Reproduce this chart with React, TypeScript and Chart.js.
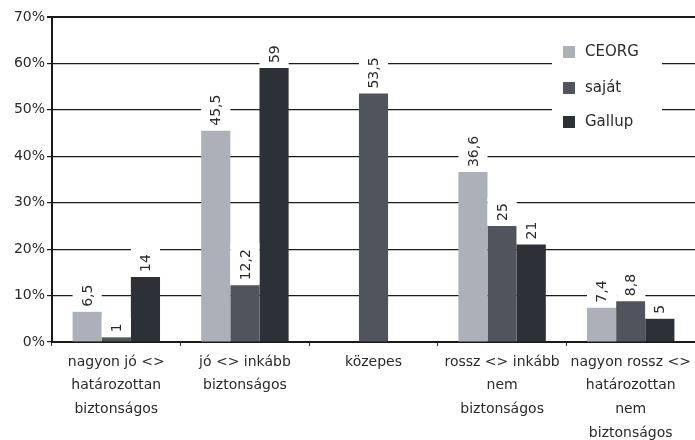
import React, { useEffect, useRef } from "react";
import { Chart, registerables } from "chart.js";

Chart.register(...registerables);

const categories: string[][] = [
  ["nagyon jó <>", "határozottan", "biztonságos"],
  ["jó <> inkább", "biztonságos"],
  ["közepes"],
  ["rossz <> inkább", "nem", "biztonságos"],
  ["nagyon rossz <>", "határozottan", "nem", "biztonságos"],
];

const seriesNames = ["CEORG", "saját", "Gallup"];
const ceorgValues: (number | null)[] = [6.5, 45.5, null, 36.6, 7.4];
const sajatValues: (number | null)[] = [1, 12.2, 53.5, 25, 8.8];
const gallupValues: (number | null)[] = [14, 59, null, 21, 5];
const seriesColors = ["#acb0b8", "#50555d", "#2c3037"];

const yTicks = [0, 10, 20, 30, 40, 50, 60, 70];

const FONT = "DejaVu Sans";
const TEXT = "#2a2a2a";

const fmt = (v: number) => String(v).replace(".", ",");

const valueLabelPlugin = {
  id: "valueLabels",
  afterDatasetsDraw(chart: any) {
    const ctx = chart.ctx;
    ctx.save();
    ctx.font = `14px "${FONT}"`;
    chart.data.datasets.forEach((ds: any, di: number) => {
      const meta = chart.getDatasetMeta(di);
      meta.data.forEach((el: any, i: number) => {
        const v = ds.data[i];
        if (v === null || v === undefined) return;
        const txt = fmt(v);
        const w = ctx.measureText(txt).width;
        const half = el.width / 2;
        ctx.save();
        ctx.translate(el.x, el.y - 5);
        ctx.rotate(-Math.PI / 2);
        ctx.fillStyle = "#ffffff";
        ctx.fillRect(-4, -half, w + 10, half * 2);
        ctx.fillStyle = TEXT;
        ctx.textAlign = "left";
        ctx.textBaseline = "middle";
        ctx.fillText(txt, 0, 1);
        ctx.restore();
      });
    });
    ctx.restore();
  },
};

const legendPlugin = {
  id: "boxLegend",
  afterDraw(chart: any) {
    const ctx = chart.ctx;
    ctx.save();
    ctx.fillStyle = "#ffffff";
    ctx.fillRect(552, 26, 110, 114);
    ctx.font = `15px "${FONT}"`;
    ctx.textBaseline = "middle";
    ctx.textAlign = "left";
    const ys = [52, 88, 122];
    chart.data.datasets.forEach((ds: any, i: number) => {
      const y = ys[i];
      ctx.fillStyle = ds.backgroundColor;
      ctx.fillRect(563, y - 6, 12, 12);
      ctx.fillStyle = TEXT;
      ctx.fillText(ds.label, 585, y);
    });
    ctx.restore();
  },
};

export default function App() {
  const ref = useRef<HTMLCanvasElement | null>(null);
  useEffect(() => {
    if (!ref.current) return;
    const chart = new Chart(ref.current, {
      type: "bar",
      data: {
        labels: categories,
        datasets: [ceorgValues, sajatValues, gallupValues].map((d, i) => ({
          label: seriesNames[i],
          data: d,
          backgroundColor: seriesColors[i],
          borderWidth: 0,
          categoryPercentage: 0.68,
          barPercentage: 1,
          skipNull: false,
        })) as any,
      },
      options: {
        animation: false,
        responsive: false,
        layout: { padding: { top: 17, right: 0, left: 0, bottom: 0 } },
        plugins: {
          legend: { display: false },
          tooltip: { enabled: false },
        },
        scales: {
          x: {
            grid: {
              drawOnChartArea: false,
              drawTicks: true,
              tickLength: 4,
              color: "#333",
              lineWidth: 1,
            },
            border: { color: "#1a1a1a", width: 2 },
            ticks: {
              color: TEXT,
              padding: 4,
              maxRotation: 0,
              autoSkip: false,
              font: { family: FONT, size: 14, lineHeight: 1.7 },
            },
            afterFit(scale: any) {
              scale.height = 98;
            },
          },
          y: {
            min: 0,
            max: 70,
            afterBuildTicks(scale: any) {
              scale.ticks = yTicks.map((v) => ({ value: v }));
            },
            grid: {
              color: "#1a1a1a",
              lineWidth: (c: any) => (c.tick && c.tick.value === 70 ? 2 : 1.2),
              tickLength: 5,
            },
            border: { color: "#1a1a1a", width: 2 },
            ticks: {
              color: TEXT,
              padding: 2,
              font: { family: FONT, size: 14 },
              callback: (v: any) => `${v}%`,
            },
            afterFit(scale: any) {
              scale.width = 52;
            },
          },
        },
      },
      plugins: [valueLabelPlugin, legendPlugin],
    });
    return () => chart.destroy();
  }, []);
  return (
    <div style={{ position: "fixed", left: 0, top: 0, width: 695, height: 440, background: "#fff" }}>
      <canvas ref={ref} width={695} height={440} style={{ width: 695, height: 440 }} />
    </div>
  );
}
